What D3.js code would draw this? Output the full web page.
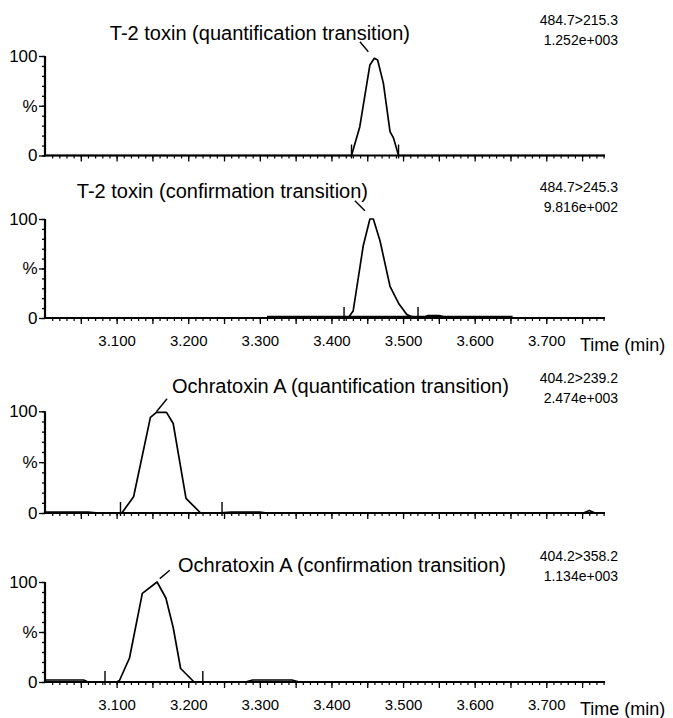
<!DOCTYPE html>
<html><head><meta charset="utf-8">
<script src="https://cdn.jsdelivr.net/npm/d3@7"></script>
<style>
body{margin:0;background:#fff}
svg{display:block}
text{font-family:"Liberation Sans",Arial,sans-serif;fill:#000}
</style>
</head><body>
<svg id="chart" width="673" height="718"></svg>
<script>
// ---------- data ----------
const panelTitles = [
  "T-2 toxin (quantification transition)",
  "T-2 toxin (confirmation transition)",
  "Ochratoxin A (quantification transition)",
  "Ochratoxin A (confirmation transition)"
];
const transitions = ["484.7>215.3", "484.7>245.3", "404.2>239.2", "404.2>358.2"];
const intensities = ["1.252e+003", "9.816e+002", "2.474e+003", "1.134e+003"];
const xTickValues = [3.1, 3.2, 3.3, 3.4, 3.5, 3.6, 3.7];
const xTickLabels = ["3.100", "3.200", "3.300", "3.400", "3.500", "3.600", "3.700"];
const yTickValues = [0, 50, 100];
const yTickLabels = ["0", "%", "100"];
const xAxisTitle = "Time (min)";

const t2QuantTime = [3.000, 3.428, 3.4396, 3.4537, 3.4599, 3.4645, 3.4725, 3.4818, 3.4866, 3.4937, 3.782];
const t2QuantPct  = [0, 0, 29, 91, 97.7, 96, 72.7, 24, 17.7, 0, 0];

const t2ConfTime = [3.000, 3.4232, 3.4303, 3.435, 3.4444, 3.4537, 3.4585, 3.4678, 3.4818, 3.4937, 3.5054, 3.510, 3.5148, 3.520, 3.5265, 3.535, 3.550, 3.5641, 3.782];
const t2ConfPct  = [0, 0, 7, 29, 73, 100, 100, 78, 32, 15, 3.4, 2, 0.6, 0, 0, 2.5, 2.5, 0, 0];

const ochraQuantTime = [3.000, 3.060, 3.075, 3.1054, 3.1078, 3.1237, 3.1472, 3.1556, 3.1697, 3.179, 3.1969, 3.2166, 3.240, 3.260, 3.300, 3.310, 3.752, 3.760, 3.768, 3.782];
const ochraQuantPct  = [1, 1, 0, 0, 0.5, 16, 94, 99, 99, 88, 14.4, 0.5, 0, 1, 1, 0, 0, 2.5, 0, 0];

const ochraConfTime = [3.000, 3.054, 3.060, 3.100, 3.104, 3.113, 3.118, 3.1359, 3.1565, 3.1688, 3.179, 3.1894, 3.2082, 3.280, 3.290, 3.345, 3.355, 3.782];
const ochraConfPct  = [2, 2, 0, 0, 1.5, 16, 24, 88.6, 100, 84, 54.5, 13.5, 0, 0, 2, 2, 0, 0];

const peakStart = [3.428, 3.4176, 3.1054, 3.0838];
const peakEnd   = [3.4937, 3.5209, 3.2472, 3.2204];
const apexTime  = [3.4599, 3.4537, 3.1556, 3.1565];
const apexPct   = [97.7, 100, 99, 100];
const integrationBaseline = [null, [3.31, 3.653], null, null];

const seriesTimes = [t2QuantTime, t2ConfTime, ochraQuantTime, ochraConfTime];
const seriesPcts  = [t2QuantPct, t2ConfPct, ochraQuantPct, ochraConfPct];

// ---------- layout ----------
const svg = d3.select("#chart");
const x = d3.scaleLinear().domain([3.0, 3.782]).range([45, 605]);
const FONT = '"Liberation Sans",Arial,sans-serif';

const panels = [
  {top: 56, bottom: 155.5, titleX: 410, titleAnchor: "end", titleY: 39.5, rightY: 24.5, showTicks: false,
   pointer: [[-14.4, -16.6], [-6, -6.6]]},
  {top: 219, bottom: 318, titleX: 368, titleAnchor: "end", titleY: 198, rightY: 192, showTicks: true,
   pointer: [[-15, -18.3], [-5, -8.3]]},
  {top: 411.3, bottom: 513, titleX: 172, titleAnchor: "start", titleY: 393, rightY: 383, showTicks: false,
   pointer: [[0, -0.6], [10.6, -13.6]]},
  {top: 582, bottom: 682, titleX: 178, titleAnchor: "start", titleY: 572, rightY: 560.5, showTicks: true,
   pointer: [[2.7, -3.4], [12.7, -11.7]]}
];

const minorX = d3.range(3.01, 3.782, 0.01).map(v => +v.toFixed(3));
const majorX = minorX.filter(v => Math.abs(Math.round(v * 20) - v * 20) < 1e-6);
const minorY = d3.range(0, 101, 10);

panels.forEach((p, i) => {
  const y = d3.scaleLinear().domain([0, 100]).range([p.bottom, p.top]);
  const g = svg.append("g");

  // x minor ticks
  g.append("g").attr("transform", `translate(0,${p.bottom})`)
    .call(d3.axisBottom(x).tickValues(minorX).tickSize(3).tickSizeOuter(0).tickFormat(""))
    .call(a => a.select(".domain").remove())
    .call(a => a.selectAll("line").attr("stroke", "#000").attr("stroke-width", 1.2));
  // x major ticks
  g.append("g").attr("transform", `translate(0,${p.bottom})`)
    .call(d3.axisBottom(x).tickValues(majorX).tickSize(6).tickSizeOuter(0).tickFormat(""))
    .call(a => a.select(".domain").remove())
    .call(a => a.selectAll("line").attr("stroke", "#000").attr("stroke-width", 1.3));
  if (p.showTicks) {
    const lab = g.append("g").attr("transform", `translate(0,${p.bottom})`)
      .call(d3.axisBottom(x).tickValues(xTickValues).tickSize(0).tickPadding(0)
        .tickFormat((d, k) => xTickLabels[k]));
    lab.select(".domain").remove();
    lab.selectAll("text").attr("dy", null).attr("y", 28)
      .style("font-size", "15px").style("font-family", FONT);
    g.append("text").attr("x", 580).attr("y", p.bottom + 33)
      .style("font-size", "18px").text(xAxisTitle);
  }

  // y ticks
  g.append("g").attr("transform", `translate(${x.range()[0]},0)`)
    .call(d3.axisLeft(y).tickValues(minorY).tickSize(3).tickSizeOuter(0).tickFormat(""))
    .call(a => a.select(".domain").remove())
    .call(a => a.selectAll("line").attr("stroke", "#000").attr("stroke-width", 1.3));
  const yl = g.append("g").attr("transform", `translate(${x.range()[0]},0)`)
    .call(d3.axisLeft(y).tickValues(yTickValues).tickSize(6).tickSizeOuter(0).tickPadding(1.5)
      .tickFormat((d, k) => yTickLabels[k]));
  yl.select(".domain").remove();
  yl.selectAll("line").attr("stroke", "#000").attr("stroke-width", 1.3);
  yl.selectAll("text").style("font-size", "17px").style("font-family", FONT);

  // axis lines
  g.append("line").attr("x1", x.range()[0]).attr("x2", x.range()[1])
    .attr("y1", p.bottom).attr("y2", p.bottom).attr("stroke", "#000").attr("stroke-width", 2.2);
  g.append("line").attr("x1", x.range()[0]).attr("x2", x.range()[0])
    .attr("y1", p.top).attr("y2", p.bottom + 1).attr("stroke", "#000").attr("stroke-width", 2.2);

  // integration baseline
  if (integrationBaseline[i]) {
    g.append("line").attr("x1", x(integrationBaseline[i][0])).attr("x2", x(integrationBaseline[i][1]))
      .attr("y1", y(0) - 1).attr("y2", y(0) - 1).attr("stroke", "#000").attr("stroke-width", 2.5);
  }

  // trace
  const pts = seriesTimes[i].map((t, k) => [t, seriesPcts[i][k]]);
  g.append("path").datum(pts)
    .attr("d", d3.line().x(d => x(d[0])).y(d => y(d[1])))
    .attr("fill", "none").attr("stroke", "#000").attr("stroke-width", 1.7)
    .attr("stroke-linejoin", "round");

  // peak markers
  [peakStart[i], peakEnd[i]].forEach(t => {
    g.append("line").attr("x1", x(t)).attr("x2", x(t))
      .attr("y1", y(0) + 3).attr("y2", y(0) - 11)
      .attr("stroke", "#000").attr("stroke-width", 1.4);
  });

  // pointer from apex to title
  const ax = x(apexTime[i]), ay = y(apexPct[i]);
  g.append("line")
    .attr("x1", ax + p.pointer[0][0]).attr("y1", ay + p.pointer[0][1])
    .attr("x2", ax + p.pointer[1][0]).attr("y2", ay + p.pointer[1][1])
    .attr("stroke", "#000").attr("stroke-width", 1.4);

  // title
  g.append("text").attr("x", p.titleX).attr("y", p.titleY)
    .attr("text-anchor", p.titleAnchor).style("font-size", "20px").text(panelTitles[i]);

  // transition + intensity
  g.append("text").attr("x", 618).attr("y", p.rightY).attr("text-anchor", "end")
    .style("font-size", "14px").text(transitions[i]);
  g.append("text").attr("x", 618).attr("y", p.rightY + 20).attr("text-anchor", "end")
    .style("font-size", "14px").text(intensities[i]);
});
</script>
</body></html>
